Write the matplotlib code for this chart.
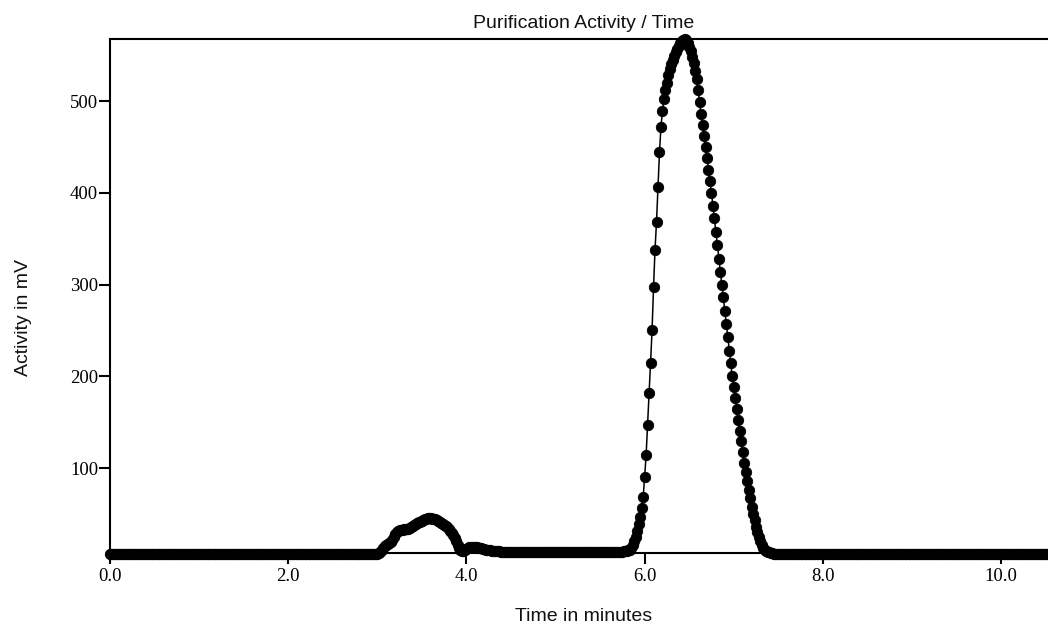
import numpy as np
import matplotlib
matplotlib.use("Agg")
import matplotlib.pyplot as plt

# ---------------- data (activity in mV, one sample per second) ----------------
SAMPLES_PER_MIN = 60

# 0.00 - 2.98 min
baseline_start = [
    6.0, 6.0, 6.0, 6.0, 6.0, 6.0, 6.0, 6.0, 6.0, 6.0, 6.0, 6.0, 6.0, 6.0, 6.0, 6.0, 6.0, 6.0, 6.0, 6.0,
    6.0, 6.0, 6.0, 6.0, 6.0, 6.0, 6.0, 6.0, 6.0, 6.0, 6.0, 6.0, 6.0, 6.0, 6.0, 6.0, 6.0, 6.0, 6.0, 6.0,
    6.0, 6.0, 6.0, 6.0, 6.0, 6.0, 6.0, 6.0, 6.0, 6.0, 6.0, 6.0, 6.0, 6.0, 6.0, 6.0, 6.0, 6.0, 6.0, 6.0,
    6.0, 6.0, 6.0, 6.0, 6.0, 6.0, 6.0, 6.0, 6.0, 6.0, 6.0, 6.0, 6.0, 6.0, 6.0, 6.0, 6.0, 6.0, 6.0, 6.0,
    6.0, 6.0, 6.0, 6.0, 6.0, 6.0, 6.0, 6.0, 6.0, 6.0, 6.0, 6.0, 6.0, 6.0, 6.0, 6.0, 6.0, 6.0, 6.0, 6.0,
    6.0, 6.0, 6.0, 6.0, 6.0, 6.0, 6.0, 6.0, 6.0, 6.0, 6.0, 6.0, 6.0, 6.0, 6.0, 6.0, 6.0, 6.0, 6.0, 6.0,
    6.0, 6.0, 6.0, 6.0, 6.0, 6.0, 6.0, 6.0, 6.0, 6.0, 6.0, 6.0, 6.0, 6.0, 6.0, 6.0, 6.0, 6.0, 6.0, 6.0,
    6.0, 6.0, 6.0, 6.0, 6.0, 6.0, 6.0, 6.0, 6.0, 6.0, 6.0, 6.0, 6.0, 6.0, 6.0, 6.0, 6.0, 6.0, 6.0, 6.0,
    6.0, 6.0, 6.0, 6.0, 6.0, 6.0, 6.0, 6.0, 6.0, 6.0, 6.0, 6.0, 6.0, 6.0, 6.0, 6.0, 6.0, 6.0, 6.0, 6.0,
]

# 3.00 - 4.25 min
minor_peak = [
    6.0, 7.0, 8.5, 10.5, 13.0, 14.5, 16.0, 17.0, 18.0, 19.5,
    21.5, 25.0, 28.0, 30.0, 31.0, 32.0, 32.5, 33.0, 33.5, 33.5,
    33.5, 34.0, 34.5, 35.5, 37.0, 38.0, 39.0, 40.0, 41.0, 41.5,
    42.5, 43.5, 44.5, 45.0, 45.5, 45.8, 45.5, 45.0, 44.5, 44.0,
    43.0, 42.0, 41.0, 40.0, 39.0, 38.0, 37.0, 35.5, 33.5, 31.5,
    29.0, 26.5, 23.5, 20.0, 16.0, 13.0, 10.5, 9.5, 9.5, 10.5,
    11.5, 13.0, 14.0, 14.0, 14.0, 14.0, 14.0, 13.5, 13.0, 13.0,
    12.5, 12.0, 11.5, 11.0, 11.0, 10.5,
]

# 4.27 - 5.78 min
mid_baseline = [
    10.5, 10.0, 10.0, 10.0, 9.5, 9.5, 9.5,
    9.0, 9.0, 9.0, 9.0, 9.0, 9.0, 9.0, 9.0, 9.0, 9.0, 9.0, 9.0, 9.0, 9.0, 9.0, 9.0, 9.0, 9.0, 9.0, 9.0,
    8.5, 8.5, 8.5, 8.5, 8.5, 8.5, 8.5, 8.5, 8.5, 8.5, 8.5, 8.5, 8.5, 8.5, 8.5, 8.5, 8.5, 8.5, 8.5, 8.5,
    8.5, 8.5, 8.5, 8.5, 8.5, 8.5, 8.5, 8.5, 8.5, 8.5, 8.5, 8.5, 8.5, 8.5, 8.5, 8.5, 8.5, 8.5, 8.5, 8.5,
    8.5, 8.5, 8.5, 8.5, 8.5, 8.5, 8.5, 8.5, 8.5, 8.5, 8.5, 8.5, 8.5, 8.5, 8.5, 8.5, 8.5, 8.5,
    8.5, 8.5, 9.0, 9.0, 9.0, 9.5, 9.5,
]

# 5.80 - 7.45 min
main_peak = [
    10.0, 10.5, 11.0, 13.0, 16.0, 20.0, 25.0, 31.0, 39.0, 47.0,
    56.0, 68.0, 90.0, 114.0, 147.0, 182.0, 215.0, 250.0, 297.0, 338.0,
    368.0, 406.0, 444.0, 472.0, 489.0, 502.0, 512.0, 520.0, 528.0, 535.0,
    540.0, 545.0, 549.0, 553.0, 557.0, 560.0, 563.0, 565.0, 566.5, 567.5,
    566.0, 563.0, 559.0, 554.0, 548.0, 541.0, 533.0, 524.0, 512.0, 499.0,
    486.0, 474.0, 462.0, 450.0, 438.0, 425.0, 413.0, 400.0, 386.0, 372.0,
    357.0, 343.0, 328.0, 314.0, 300.0, 286.0, 271.0, 257.0, 243.0, 228.0,
    214.0, 200.0, 188.0, 176.0, 164.0, 152.0, 140.0, 129.0, 118.0, 106.0,
    96.0, 86.0, 76.0, 67.0, 58.0, 50.0, 43.0, 36.0, 30.0, 25.0,
    20.0, 16.0, 13.0, 11.0, 9.5, 8.5, 8.0, 7.5, 7.0, 6.5,
]

# 7.47 - 10.53 min
baseline_end = [
    6.0, 6.0, 6.0, 6.0, 6.0, 6.0, 6.0, 6.0, 6.0, 6.0, 6.0, 6.0, 6.0, 6.0, 6.0, 6.0, 6.0, 6.0, 6.0, 6.0,
    6.0, 6.0, 6.0, 6.0, 6.0, 6.0, 6.0, 6.0, 6.0, 6.0, 6.0, 6.0, 6.0, 6.0, 6.0, 6.0, 6.0, 6.0, 6.0, 6.0,
    6.0, 6.0, 6.0, 6.0, 6.0, 6.0, 6.0, 6.0, 6.0, 6.0, 6.0, 6.0, 6.0, 6.0, 6.0, 6.0, 6.0, 6.0, 6.0, 6.0,
    6.0, 6.0, 6.0, 6.0, 6.0, 6.0, 6.0, 6.0, 6.0, 6.0, 6.0, 6.0, 6.0, 6.0, 6.0, 6.0, 6.0, 6.0, 6.0, 6.0,
    6.0, 6.0, 6.0, 6.0, 6.0, 6.0, 6.0, 6.0, 6.0, 6.0, 6.0, 6.0, 6.0, 6.0, 6.0, 6.0, 6.0, 6.0, 6.0, 6.0,
    6.0, 6.0, 6.0, 6.0, 6.0, 6.0, 6.0, 6.0, 6.0, 6.0, 6.0, 6.0, 6.0, 6.0, 6.0, 6.0, 6.0, 6.0, 6.0, 6.0,
    6.0, 6.0, 6.0, 6.0, 6.0, 6.0, 6.0, 6.0, 6.0, 6.0, 6.0, 6.0, 6.0, 6.0, 6.0, 6.0, 6.0, 6.0, 6.0, 6.0,
    6.0, 6.0, 6.0, 6.0, 6.0, 6.0, 6.0, 6.0, 6.0, 6.0, 6.0, 6.0, 6.0, 6.0, 6.0, 6.0, 6.0, 6.0, 6.0, 6.0,
    6.0, 6.0, 6.0, 6.0, 6.0, 6.0, 6.0, 6.0, 6.0, 6.0, 6.0, 6.0, 6.0, 6.0, 6.0, 6.0, 6.0, 6.0, 6.0, 6.0,
    6.0, 6.0, 6.0, 6.0, 6.0,
]

activity_mv = baseline_start + minor_peak + mid_baseline + main_peak + baseline_end
time_min = np.arange(len(activity_mv)) / SAMPLES_PER_MIN

x_ticks = [0, 2, 4, 6, 8, 10]
x_tick_labels = ["0.0", "2.0", "4.0", "6.0", "8.0", "10.0"]
y_ticks = [100, 200, 300, 400, 500]
y_tick_labels = ["100", "200", "300", "400", "500"]

title = "Purification Activity / Time"
x_label = "Time in minutes"
y_label = "Activity in mV"

# ---------------- figure ----------------
W, H = 1048, 625
fig = plt.figure(figsize=(W / 100, H / 100), dpi=100)
ax = fig.add_axes([110 / W, 1 - 553 / H, 938 / W, 514 / H])

ax.plot(time_min, activity_mv, color="black", lw=1.1, marker="o", ms=7.5,
        mfc="black", mec="black", mew=0.6, clip_on=False, zorder=3)

ax.set_xlim(0, 10.527)
ax.set_ylim(7.4, 567.6)

for side in ["left", "bottom", "top"]:
    ax.spines[side].set_linewidth(1.5)
    ax.spines[side].set_color("black")
ax.spines["right"].set_visible(False)

ax.set_xticks(x_ticks)
ax.set_xticklabels(x_tick_labels)
ax.set_yticks(y_ticks)
ax.set_yticklabels(y_tick_labels)
ax.tick_params(axis="both", direction="out", length=8, width=1.5, colors="black",
               labelsize=13.5)
ax.tick_params(axis="y", pad=0.5)
ax.tick_params(axis="x", pad=3)
for lab in ax.get_xticklabels() + ax.get_yticklabels():
    lab.set_fontfamily(["Liberation Serif", "DejaVu Serif"])

sans = ["Liberation Sans", "DejaVu Sans"]
fig.text(583.5 / W, 1 - 28 / H, title, ha="center", va="baseline",
         fontsize=14, family=sans, color="#111111")
fig.text(584 / W, 1 - 621 / H, x_label, ha="center", va="baseline",
         fontsize=14, family=sans, color="#111111")
fig.text(28.5 / W, 1 - 317 / H, y_label, ha="center", va="baseline",
         rotation=90, rotation_mode="anchor",
         fontsize=14, family=sans, color="#111111")

fig.savefig("out.png", dpi=100)
